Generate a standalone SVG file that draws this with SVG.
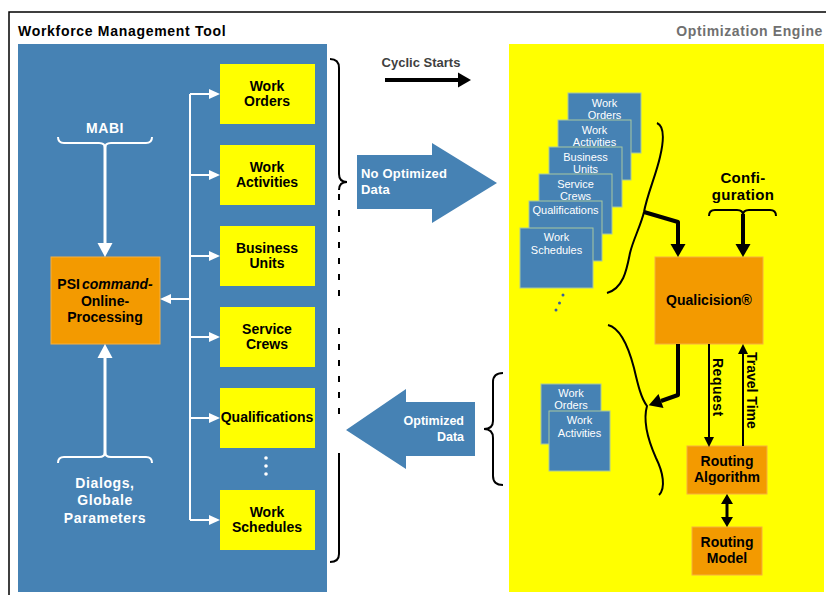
<svg xmlns="http://www.w3.org/2000/svg" width="826" height="595" viewBox="0 0 826 595">
<defs>
<style>
.t{font-family:"Liberation Sans",Arial,sans-serif;font-weight:bold;}
.wt{fill:#ffffff;font-size:14px;letter-spacing:0.6px;}
.bt{fill:#000000;font-size:14px;}
.ct{font-family:"Liberation Sans",Arial,sans-serif;font-size:11px;fill:#ffffff;text-anchor:middle;}
.c{text-anchor:middle;}
.ybox{fill:#ffff00;}
.obox{fill:#f39a00;stroke:#f6b040;stroke-width:1;}
.card{fill:#4682b4;stroke:#a8c8a0;stroke-width:1;}
.wl{fill:none;stroke:#ffffff;}
.bl{fill:none;stroke:#000000;}
</style>
<marker id="wSmall" markerUnits="userSpaceOnUse" markerWidth="11" markerHeight="10" refX="0" refY="5" orient="auto" overflow="visible"><path d="M0,0 L11,5 L0,10 z" fill="#ffffff"/></marker>
<marker id="wBig" markerUnits="userSpaceOnUse" markerWidth="14" markerHeight="15" refX="0" refY="7.5" orient="auto" overflow="visible"><path d="M0,0 L14,7.5 L0,15 z" fill="#ffffff"/></marker>
<marker id="kBig" markerUnits="userSpaceOnUse" markerWidth="13" markerHeight="15" refX="0" refY="7.5" orient="auto" overflow="visible"><path d="M0,0 L13,7.5 L0,15 z" fill="#000000"/></marker>
<marker id="kSmall" markerUnits="userSpaceOnUse" markerWidth="10" markerHeight="10" refX="0" refY="5" orient="auto" overflow="visible"><path d="M0,0 L10,5 L0,10 z" fill="#000000"/></marker>
<marker id="kDbl" markerUnits="userSpaceOnUse" markerWidth="10" markerHeight="12" refX="0" refY="6" orient="auto-start-reverse" overflow="visible"><path d="M0,0 L10,6 L0,12 z" fill="#000000"/></marker>
</defs>
<rect width="826" height="595" fill="#ffffff"/>
<!-- frame -->
<path d="M9 595 V12 H826" fill="none" stroke="#000000" stroke-width="1.5"/>
<text class="t" x="18" y="36" font-size="14" letter-spacing="0.7" fill="#000000">Workforce Management Tool</text>
<text class="t" x="823" y="36" font-size="14" letter-spacing="0.6" fill="#707070" text-anchor="end">Optimization Engine</text>

<!-- panels -->
<rect id="wmt-panel" x="18" y="44" width="309" height="548" fill="#4682b4"/>
<rect id="oe-panel" x="509" y="44" width="315" height="548" fill="#ffff00"/>

<!-- left panel nodes -->
<g id="mabi"><text class="t wt c" x="105" y="133">MABI</text></g>
<g id="dialogs">
<text class="t wt c" x="105" y="488">Dialogs,</text>
<text class="t wt c" x="105" y="505">Globale</text>
<text class="t wt c" x="105" y="523">Parameters</text>
</g>
<g id="psi">
<rect class="obox" x="51" y="257" width="109" height="87"/>
<text class="t bt c" x="105" y="289">PSI<tspan dx="2" font-style="italic">command-</tspan></text>
<text class="t bt c" x="105" y="306">Online-</text>
<text class="t bt c" x="105" y="322">Processing</text>
</g>
<g id="work-orders"><rect class="ybox" x="220" y="64" width="95" height="60"/>
<text class="t bt c" x="267" y="91">Work</text><text class="t bt c" x="267" y="106">Orders</text></g>
<g id="work-activities"><rect class="ybox" x="220" y="145" width="95" height="60"/>
<text class="t bt c" x="267" y="172">Work</text><text class="t bt c" x="267" y="187">Activities</text></g>
<g id="business-units"><rect class="ybox" x="220" y="226" width="95" height="60"/>
<text class="t bt c" x="267" y="253">Business</text><text class="t bt c" x="267" y="268">Units</text></g>
<g id="service-crews"><rect class="ybox" x="220" y="307" width="95" height="60"/>
<text class="t bt c" x="267" y="334">Service</text><text class="t bt c" x="267" y="349">Crews</text></g>
<g id="qualifications"><rect class="ybox" x="220" y="388" width="95" height="60"/>
<text class="t bt c" x="267" y="422">Qualifications</text></g>
<g id="more-dots" fill="#ffffff"><circle cx="266" cy="458" r="1.8"/><circle cx="266" cy="466" r="1.8"/><circle cx="266" cy="474" r="1.8"/></g>
<g id="work-schedules"><rect class="ybox" x="220" y="490" width="95" height="60"/>
<text class="t bt c" x="267" y="517">Work</text><text class="t bt c" x="267" y="532">Schedules</text></g>

<!-- middle -->
<g id="cyclic-starts">
<text class="t c" x="421" y="67" font-size="13" fill="#404040">Cyclic Starts</text>
</g>
<g id="no-optimized-data">
<polygon points="357,155 432,155 432,143 497,183 432,223 432,209 357,209" fill="#4682b4"/>
<text class="t" x="361" y="178" font-size="13" fill="#ffffff" letter-spacing="0.2">No Optimized</text>
<text class="t" x="361" y="194" font-size="13" fill="#ffffff" letter-spacing="0.2">Data</text>
</g>
<g id="optimized-data">
<polygon points="346,430 406,389 406,402 475,402 475,456 406,456 406,469" fill="#4682b4"/>
<text class="t" x="464" y="425" font-size="12.5" fill="#ffffff" text-anchor="end">Optimized</text>
<text class="t" x="464" y="441" font-size="12.5" fill="#ffffff" text-anchor="end">Data</text>
</g>

<!-- optimization engine cards -->
<g id="card-stack">
<g id="card-work-orders"><rect class="card" x="568" y="93" width="73" height="60"/><text class="ct" x="604.5" y="107">Work</text><text class="ct" x="604.5" y="119">Orders</text></g>
<g id="card-work-activities"><rect class="card" x="558" y="120" width="73" height="60"/><text class="ct" x="594.5" y="134">Work</text><text class="ct" x="594.5" y="146">Activities</text></g>
<g id="card-business-units"><rect class="card" x="549" y="147" width="73" height="60"/><text class="ct" x="585.5" y="161">Business</text><text class="ct" x="585.5" y="173">Units</text></g>
<g id="card-service-crews"><rect class="card" x="539" y="174" width="73" height="60"/><text class="ct" x="575.5" y="188">Service</text><text class="ct" x="575.5" y="200">Crews</text></g>
<g id="card-qualifications"><rect class="card" x="529" y="201" width="73" height="60"/><text class="ct" x="565.5" y="214">Qualifications</text></g>
<g id="card-work-schedules"><rect class="card" x="520" y="228" width="73" height="60"/><text class="ct" x="556.5" y="241">Work</text><text class="ct" x="556.5" y="254">Schedules</text></g>
<g id="card-dots" fill="#3a5f9a"><circle cx="563" cy="295" r="1.5"/><circle cx="559.5" cy="303" r="1.5"/><circle cx="556" cy="310" r="1.5"/></g>
</g>
<g id="result-stack">
<g id="res-work-orders"><rect class="card" x="541" y="384" width="60" height="60"/><text class="ct" x="571" y="397">Work</text><text class="ct" x="571" y="409">Orders</text></g>
<g id="res-work-activities"><rect class="card" x="549" y="411" width="61" height="60"/><text class="ct" x="579.5" y="424">Work</text><text class="ct" x="579.5" y="437">Activities</text></g>
</g>
<g id="configuration">
<text class="t c" x="743" y="183" font-size="15" letter-spacing="0.3" fill="#000000">Confi-</text>
<text class="t c" x="743" y="200" font-size="15" letter-spacing="0.3" fill="#000000">guration</text>
</g>
<g id="qualicision">
<rect class="obox" x="655" y="257" width="108" height="87"/>
<text class="t bt c" x="709" y="305">Qualicision®</text>
</g>
<g id="routing-algorithm">
<rect class="obox" x="687" y="446" width="80" height="48"/>
<text class="t bt c" x="727" y="466">Routing</text>
<text class="t bt c" x="727" y="482">Algorithm</text>
</g>
<g id="routing-model">
<rect class="obox" x="692" y="527" width="70" height="48"/>
<text class="t bt c" x="727" y="547">Routing</text>
<text class="t bt c" x="727" y="563">Model</text>
</g>

<!-- connectors -->
<g id="connectors">
<!-- white left panel -->
<path class="wl" stroke-width="2" d="M190 94 V520"/>
<path class="wl" stroke-width="2" d="M190 94 H209" marker-end="url(#wSmall)"/>
<path class="wl" stroke-width="2" d="M190 175 H209" marker-end="url(#wSmall)"/>
<path class="wl" stroke-width="2" d="M190 256 H209" marker-end="url(#wSmall)"/>
<path class="wl" stroke-width="2" d="M190 337 H209" marker-end="url(#wSmall)"/>
<path class="wl" stroke-width="2" d="M190 418 H209" marker-end="url(#wSmall)"/>
<path class="wl" stroke-width="2" d="M190 520 H209" marker-end="url(#wSmall)"/>
<path class="wl" stroke-width="2" d="M190 299 H171" marker-end="url(#wSmall)"/>
<path class="wl" stroke-width="2" d="M58 137 Q58 143 64 143 L99 143 Q105 143 105 148 Q105 143 111 143 L146 143 Q152 143 152 137"/>
<path class="wl" stroke-width="3" d="M105 146 V243" marker-end="url(#wBig)"/>
<path class="wl" stroke-width="2" d="M58 463 Q58 457 64 457 L99 457 Q105 457 105 452 Q105 457 111 457 L146 457 Q152 457 152 463"/>
<path class="wl" stroke-width="3" d="M105 454 V358" marker-end="url(#wBig)"/>
<!-- black brackets -->
<path class="bl" stroke-width="2" d="M330 59 Q339 59 339 68 L339 174 Q339 182 347 182 Q339 182 339 190"/>
<path class="bl" stroke-width="2" stroke-dasharray="6 10" d="M339 194 V297"/>
<path class="bl" stroke-width="2" stroke-dasharray="6 10" d="M339 328 V422"/>
<path class="bl" stroke-width="2" d="M339 453 V554 Q339 562 330 562"/>
<path class="bl" stroke-width="2" d="M503 373 Q493 373 493 382 L493 421 Q493 429 484 429 Q493 429 493 438 L493 476 Q493 485 503 485"/>
<path class="bl" stroke-width="2" d="M657 123 C664 126 664 140 660 157 C656 175 647 195 644 212 C641 225 633 240 630 253 C627 268 624 288 607 293"/>
<path class="bl" stroke-width="2" d="M608 325 C620 328 628 345 634 368 C638 385 641 398 647 406 C643 420 648 440 656 458 C663 472 666 488 659 495"/>
<path class="bl" stroke-width="2" d="M709 216 Q709 210 715 210 L737 210 Q743 210 743 215 Q743 210 749 210 L770 210 Q776 210 776 216"/>
<!-- black arrows -->
<path class="bl" stroke-width="4" d="M385 80 H458" marker-end="url(#kBig)"/>
<path class="bl" stroke-width="4" stroke-linejoin="round" d="M644 212 L678 222 V244" marker-end="url(#kBig)"/>
<path class="bl" stroke-width="4" d="M743 214 V244" marker-end="url(#kBig)"/>
<path class="bl" stroke-width="4" stroke-linejoin="round" d="M678 344 V395 L661 401" marker-end="url(#kBig)"/>
<path class="bl" stroke-width="2" d="M709 344 V437" marker-end="url(#kSmall)"/>
<path class="bl" stroke-width="2" d="M743 446 V354" marker-end="url(#kSmall)"/>
<path class="bl" stroke-width="3" d="M727 504 V517" marker-start="url(#kDbl)" marker-end="url(#kDbl)"/>
<text class="t" font-size="14" letter-spacing="0.5" fill="#000000" transform="translate(713,358) rotate(90)">Request</text>
<text class="t" font-size="14" fill="#000000" transform="translate(747,352) rotate(90)">Travel Time</text>
</g>
</svg>
